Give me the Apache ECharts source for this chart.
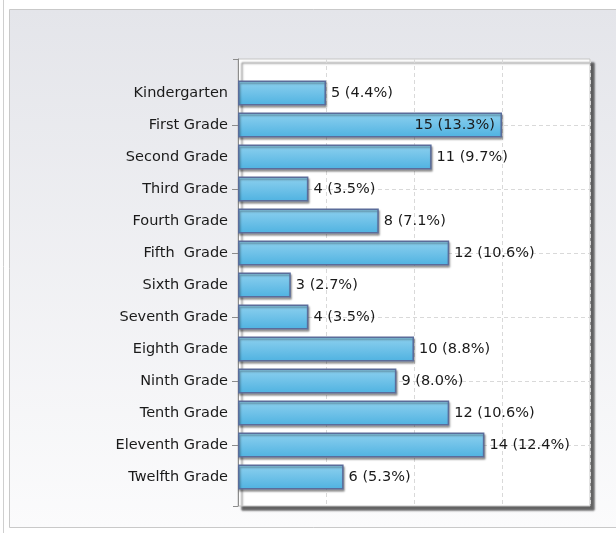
<!DOCTYPE html>
<html>
<head>
<meta charset="utf-8">
<script src="https://cdn.jsdelivr.net/npm/echarts@6/dist/echarts.min.js"></script>
<style>
  html, body { margin: 0; padding: 0; background: #ffffff; }
  #chart { width: 616px; height: 533px; }
</style>
</head>
<body>
<div id="chart"></div>
<script>
// Enrollment by grade level
var grades = ['Kindergarten', 'First Grade', 'Second Grade', 'Third Grade', 'Fourth Grade',
  'Fifth  Grade', 'Sixth Grade', 'Seventh Grade', 'Eighth Grade', 'Ninth Grade',
  'Tenth Grade', 'Eleventh Grade', 'Twelfth Grade'];
var counts = [5, 15, 11, 4, 8, 12, 3, 4, 10, 9, 12, 14, 6];
var valueTicks = [0, 5, 10, 15, 20];

var total = counts.reduce(function (a, b) { return a + b; }, 0);
var FONT = 'DejaVu Sans';

var chart = echarts.init(document.getElementById('chart'), null, { renderer: 'canvas' });

// dashed guide lines on every other category (First, Third, ...)
var guideLines = grades
  .filter(function (g, i) { return i % 2 === 1; })
  .map(function (g) { return { yAxis: g }; });

var barData = counts.map(function (v, i) {
  var d = { value: v };
  if (v === Math.max.apply(null, counts)) {
    d.label = { position: 'insideRight', distance: 7 };
  }
  return d;
});

chart.setOption({
  animation: false,
  graphic: [
    { type: 'line', shape: { x1: 3.5, y1: 0, x2: 3.5, y2: 533 },
      style: { stroke: '#cfcfcf', lineWidth: 1 }, z: -10 },
    { type: 'rect', shape: { x: 9.5, y: 9.5, width: 640, height: 518 },
      style: {
        fill: new echarts.graphic.LinearGradient(0, 0, 0, 1, [
          { offset: 0, color: '#e4e5ea' },
          { offset: 1, color: '#fbfbfc' }
        ]),
        stroke: '#c9c9c9', lineWidth: 1
      }, z: -10 }
  ],
  grid: [
    { // plot frame
      left: 238, top: 59, width: 352, height: 447,
      show: true, backgroundColor: '#ffffff',
      borderColor: '#c4c4c4', borderWidth: 1,
      shadowColor: 'rgba(0,0,0,0.6)', shadowBlur: 2,
      shadowOffsetX: 4, shadowOffsetY: 4
    },
    { // bar band
      left: 238, top: 77, width: 352, height: 416
    }
  ],
  xAxis: [
    {
      gridIndex: 0, type: 'value',
      min: valueTicks[0], max: valueTicks[valueTicks.length - 1],
      interval: valueTicks[1] - valueTicks[0],
      axisLine: { show: false }, axisTick: { show: false }, axisLabel: { show: false },
      splitLine: { show: true, lineStyle: { color: '#d9d9d9', type: [4, 3], width: 1 } }
    },
    {
      gridIndex: 1, type: 'value',
      min: valueTicks[0], max: valueTicks[valueTicks.length - 1],
      show: false
    }
  ],
  yAxis: [
    {
      gridIndex: 0, type: 'value', min: 0, max: 1, interval: 1,
      axisLine: { show: true, lineStyle: { color: '#8c8c8c', width: 1 } },
      axisTick: { show: true, length: 5, lineStyle: { color: '#8c8c8c' } },
      axisLabel: { show: false }, splitLine: { show: false }
    },
    {
      gridIndex: 1, type: 'category', data: grades, inverse: true,
      axisLine: { show: false },
      axisTick: {
        show: true, alignWithLabel: true, length: 6,
        interval: function (i) { return i % 2 === 1; },
        lineStyle: { color: '#8c8c8c' }
      },
      axisLabel: {
        margin: 10, fontFamily: FONT, fontSize: 14.5, color: '#1a1a1a', interval: 0
      },
      splitLine: { show: false }
    }
  ],
  series: [
    {
      type: 'bar', xAxisIndex: 1, yAxisIndex: 1,
      data: barData, barWidth: 25, z: 3,
      itemStyle: {
        color: new echarts.graphic.LinearGradient(0, 0, 0, 1, [
          { offset: 0, color: '#8fd1ef' },
          { offset: 1, color: '#4fb2e1' }
        ]),
        borderColor: '#5a6c9a', borderWidth: 1.5,
        shadowColor: 'rgba(0,0,0,0.35)', shadowBlur: 2,
        shadowOffsetX: 1, shadowOffsetY: 2
      },
      label: {
        show: true, position: 'right', distance: 5,
        fontFamily: FONT, fontSize: 14.5, color: '#1a1a1a',
        formatter: function (p) {
          return p.value + ' (' + (p.value / total * 100).toFixed(1) + '%)';
        }
      },
      markLine: {
        silent: true, symbol: 'none', z: 1,
        label: { show: false },
        lineStyle: { color: '#d9d9d9', type: [4, 3], width: 1 },
        data: guideLines
      }
    }
  ]
});
</script>
</body>
</html>
